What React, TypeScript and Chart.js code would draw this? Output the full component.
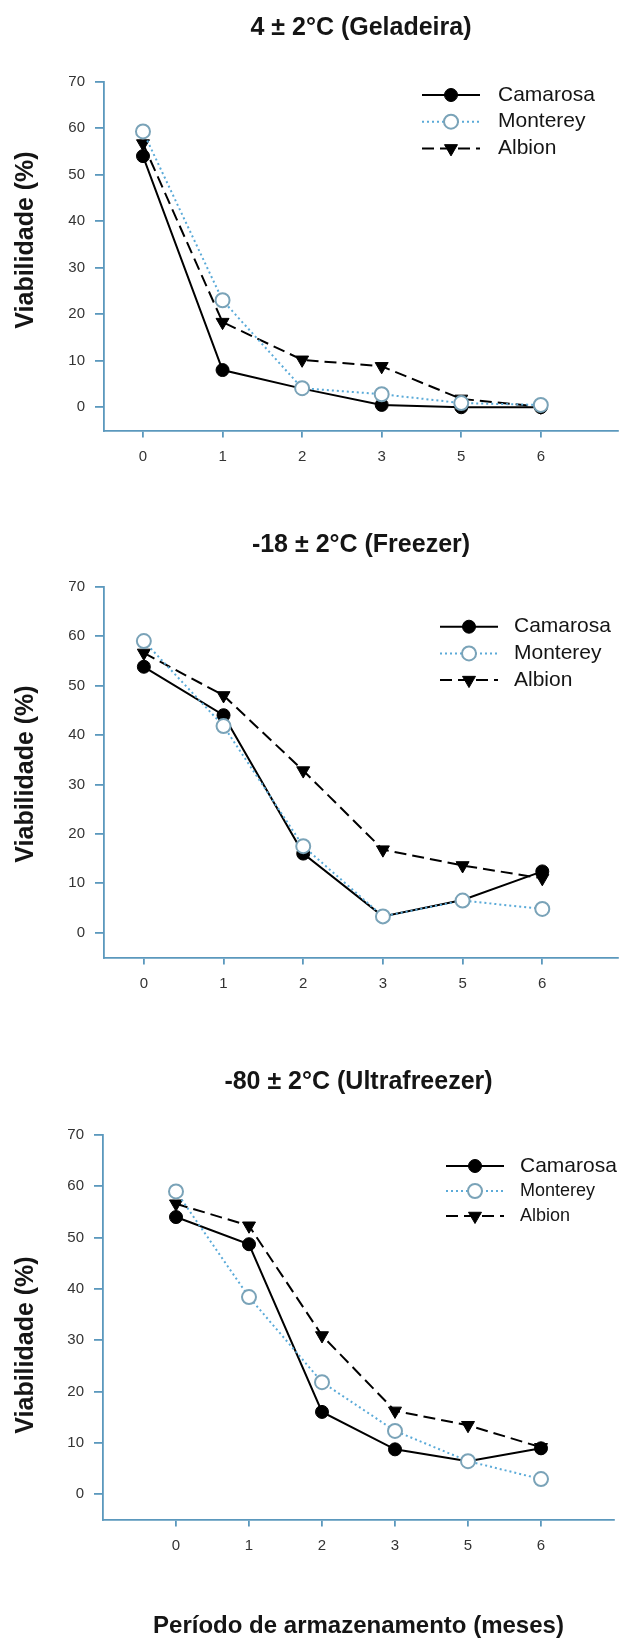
import React, { useEffect, useRef } from 'react';
import { Chart, registerables } from 'chart.js';

Chart.register(...registerables);

// ---------- data ----------
const months = ['0', '1', '2', '3', '5', '6'];
const yTicks = [0, 10, 20, 30, 40, 50, 60, 70];
const seriesNames = ['Camarosa', 'Monterey', 'Albion'];
const panelTitles = ['4 ± 2°C (Geladeira)', '-18 ± 2°C (Freezer)', '-80 ± 2°C (Ultrafreezer)'];
const yAxisTitle = 'Viabilidade (%)';
const xAxisTitle = 'Período de armazenamento (meses)';

const geladeiraCamarosa = [54.0, 8.0, 4.0, 0.5, 0.0, 0.0];
const geladeiraMonterey = [59.3, 23.0, 4.1, 2.8, 0.9, 0.5];
const geladeiraAlbion = [56.7, 18.3, 10.2, 8.8, 1.8, 0.1];

const freezerCamarosa = [53.8, 44.0, 16.0, 3.3, 6.6, 12.4];
const freezerMonterey = [59.0, 41.8, 17.5, 3.3, 6.5, 4.8];
const freezerAlbion = [56.6, 48.0, 32.8, 16.8, 13.6, 11.0];

const ultraCamarosa = [54.0, 48.7, 16.0, 8.7, 6.4, 8.9];
const ultraMonterey = [59.0, 38.4, 21.8, 12.3, 6.4, 2.9];
const ultraAlbion = [56.6, 52.3, 30.9, 16.2, 13.4, 9.1];

// ---------- styles ----------
const FONT = "'Liberation Sans', Arial, Helvetica, sans-serif";
const AXIS_COLOR = '#5b98bd';
const TEXT_DARK = '#151515';
const TICK_COLOR = '#333333';
const MONTEREY_LINE = '#5aaad8';
const MONTEREY_EDGE = '#7aa3b8';
const W = 627;

type LegendCfg = { lineX: number; len: number; textX: number; y: number; gap: number; sizes: number[] };
type PanelLayout = {
  top: number;
  height: number;
  areaTop: number;
  areaBottom: number;
  areaLeft: number;
  areaRight: number;
  xMin: number;
  xMax: number;
  titleY: number;
  yTitleX: number;
  yTitleY: number;
  legend: LegendCfg;
  showXTitle: boolean;
};

const layouts: PanelLayout[] = [
  {
    top: 0, height: 500, areaTop: 81.7, areaBottom: 430.5, areaLeft: 104, areaRight: 627,
    xMin: -0.49, xMax: 5.97, titleY: 28.3, yTitleX: 26, yTitleY: 240,
    legend: { lineX: 422, len: 58, textX: 498, y: 95, gap: 26.7, sizes: [21, 21, 21] },
    showXTitle: false,
  },
  {
    top: 500, height: 500, areaTop: 86.7, areaBottom: 457.4, areaLeft: 104, areaRight: 627,
    xMin: -0.5, xMax: 5.95, titleY: 45.5, yTitleX: 26, yTitleY: 274,
    legend: { lineX: 440, len: 58, textX: 514, y: 126.7, gap: 26.7, sizes: [21, 21, 21] },
    showXTitle: false,
  },
  {
    top: 1000, height: 638, areaTop: 135, areaBottom: 519.6, areaLeft: 103, areaRight: 614,
    xMin: -1, xMax: 6, titleY: 82, yTitleX: 26, yTitleY: 345,
    legend: { lineX: 446, len: 58, textX: 520, y: 166, gap: 25, sizes: [21, 18, 18] },
    showXTitle: true,
  },
];

const panelData: number[][][] = [
  [geladeiraCamarosa, geladeiraMonterey, geladeiraAlbion],
  [freezerCamarosa, freezerMonterey, freezerAlbion],
  [ultraCamarosa, ultraMonterey, ultraAlbion],
];

function drawMarker(ctx: CanvasRenderingContext2D, ds: any, x: number, y: number) {
  const r = ds.pointRadius;
  ctx.save();
  ctx.setLineDash([]);
  ctx.fillStyle = ds.pointBackgroundColor;
  ctx.strokeStyle = ds.pointBorderColor;
  ctx.lineWidth = ds.pointBorderWidth;
  ctx.beginPath();
  if (ds.pointStyle === 'triangle') {
    let rad = ((ds.pointRotation || 0) * Math.PI) / 180;
    ctx.moveTo(x + Math.sin(rad) * r, y - Math.cos(rad) * r);
    rad += (2 * Math.PI) / 3;
    ctx.lineTo(x + Math.sin(rad) * r, y - Math.cos(rad) * r);
    rad += (2 * Math.PI) / 3;
    ctx.lineTo(x + Math.sin(rad) * r, y - Math.cos(rad) * r);
    ctx.closePath();
  } else {
    ctx.arc(x, y, r, 0, Math.PI * 2);
  }
  ctx.fill();
  if (ds.pointBorderWidth > 0) ctx.stroke();
  ctx.restore();
}

const lineLegendPlugin = {
  id: 'lineLegend',
  afterDraw(chart: any, _args: any, opts: any) {
    const cfg = opts as LegendCfg;
    if (!cfg || cfg.lineX === undefined) return;
    const ctx: CanvasRenderingContext2D = chart.ctx;
    chart.data.datasets.forEach((ds: any, i: number) => {
      const y = cfg.y + i * cfg.gap;
      ctx.save();
      ctx.strokeStyle = ds.borderColor;
      ctx.lineWidth = ds.borderWidth;
      ctx.setLineDash(ds.borderDash || []);
      ctx.beginPath();
      ctx.moveTo(cfg.lineX, y);
      ctx.lineTo(cfg.lineX + cfg.len, y);
      ctx.stroke();
      ctx.restore();
      drawMarker(ctx, ds, cfg.lineX + cfg.len / 2, y);
      ctx.save();
      ctx.fillStyle = TEXT_DARK;
      ctx.font = `${cfg.sizes[i]}px ${FONT}`;
      ctx.textBaseline = 'middle';
      ctx.textAlign = 'left';
      ctx.fillText(ds.label, cfg.textX, y);
      ctx.restore();
    });
  },
};

const yTitlePlugin = {
  id: 'yTitle',
  afterDraw(chart: any, _args: any, opts: any) {
    if (!opts || opts.text === undefined) return;
    const ctx: CanvasRenderingContext2D = chart.ctx;
    ctx.save();
    ctx.translate(opts.x, opts.y);
    ctx.rotate(-Math.PI / 2);
    ctx.fillStyle = TEXT_DARK;
    ctx.font = `bold ${opts.size}px ${FONT}`;
    ctx.textAlign = 'center';
    ctx.textBaseline = 'middle';
    ctx.fillText(opts.text, 0, 0);
    ctx.restore();
  },
};

function makeConfig(idx: number): any {
  const L = layouts[idx];
  const d = panelData[idx];
  const titleSize = 25;
  const titleLH = titleSize * 1.2;
  const padTop = L.titleY - titleLH / 2;
  const padBottom = L.areaTop - padTop - titleLH;
  const toPts = (arr: number[]) => arr.map((v, i) => ({ x: i, y: v }));
  const tickFont = { family: FONT, size: 15 };
  return {
    type: 'line',
    data: {
      datasets: [
        {
          label: seriesNames[0],
          data: toPts(d[0]),
          borderColor: '#000',
          backgroundColor: '#000',
          borderWidth: 2,
          pointStyle: 'circle',
          pointRadius: 6.5,
          pointBackgroundColor: '#000',
          pointBorderColor: '#000',
          pointBorderWidth: 1,
          tension: 0,
          order: 2,
        },
        {
          label: seriesNames[1],
          data: toPts(d[1]),
          borderColor: MONTEREY_LINE,
          backgroundColor: '#fff',
          borderWidth: 2,
          borderDash: [2, 3],
          pointStyle: 'circle',
          pointRadius: 7,
          pointBackgroundColor: '#fff',
          pointBorderColor: MONTEREY_EDGE,
          pointBorderWidth: 2,
          tension: 0,
          order: 1,
        },
        {
          label: seriesNames[2],
          data: toPts(d[2]),
          borderColor: '#000',
          backgroundColor: '#000',
          borderWidth: 2,
          borderDash: [12, 6],
          pointStyle: 'triangle',
          pointRotation: 180,
          pointRadius: 7.5,
          pointBackgroundColor: '#000',
          pointBorderColor: '#000',
          pointBorderWidth: 1,
          tension: 0,
          order: 3,
        },
      ],
    },
    options: {
      responsive: false,
      animation: false,
      events: [],
      layout: { padding: { left: 0, right: W - L.areaRight, top: 0, bottom: 0 } },
      plugins: {
        legend: { display: false },
        tooltip: { enabled: false },
        title: {
          display: true,
          text: panelTitles[idx],
          fullSize: false,
          color: TEXT_DARK,
          font: { family: FONT, size: titleSize, weight: 'bold', lineHeight: 1.2 },
          padding: { top: padTop, bottom: padBottom },
        },
        lineLegend: L.legend,
        yTitle: { text: yAxisTitle, x: L.yTitleX, y: L.yTitleY, size: 25 },
      },
      scales: {
        x: {
          type: 'linear',
          min: L.xMin,
          max: L.xMax,
          afterFit: (s: any) => {
            s.height = L.height - L.areaBottom;
          },
          afterBuildTicks: (s: any) => {
            s.ticks = months.map((_, i) => ({ value: i }));
          },
          ticks: {
            callback: (v: any) => months[v] ?? '',
            font: tickFont,
            color: TICK_COLOR,
            padding: 10,
            maxRotation: 0,
            autoSkip: false,
          },
          grid: {
            display: true,
            drawOnChartArea: false,
            drawTicks: true,
            tickLength: 7,
            color: AXIS_COLOR,
            lineWidth: 1.8,
          },
          border: { display: true, color: AXIS_COLOR, width: 1.8 },
          title: L.showXTitle
            ? {
                display: true,
                text: xAxisTitle,
                color: TEXT_DARK,
                font: { family: FONT, size: 24, weight: 'bold', lineHeight: 1 },
                padding: { top: 0, bottom: 0 },
              }
            : { display: false },
        },
        y: {
          type: 'linear',
          min: -5,
          max: 70,
          afterFit: (s: any) => {
            s.width = L.areaLeft;
          },
          afterBuildTicks: (s: any) => {
            s.ticks = yTicks.map((v) => ({ value: v }));
          },
          ticks: {
            font: tickFont,
            color: TICK_COLOR,
            padding: 10,
          },
          grid: {
            display: true,
            drawOnChartArea: false,
            drawTicks: true,
            tickLength: 9,
            color: AXIS_COLOR,
            lineWidth: 1.8,
          },
          border: { display: true, color: AXIS_COLOR, width: 1.8 },
          title: { display: false },
        },
      },
    },
    plugins: [lineLegendPlugin, yTitlePlugin],
  };
}

function Panel({ idx }: { idx: number }) {
  const ref = useRef<HTMLCanvasElement | null>(null);
  const L = layouts[idx];
  useEffect(() => {
    if (!ref.current) return;
    const chart = new Chart(ref.current, makeConfig(idx));
    return () => chart.destroy();
  }, [idx]);
  return (
    <canvas
      ref={ref}
      width={W}
      height={L.height}
      style={{ position: 'absolute', left: 0, top: L.top, width: W, height: L.height, display: 'block' }}
    />
  );
}

export default function App() {
  return (
    <div style={{ position: 'absolute', left: 0, top: 0, width: W, height: 1638, background: '#fff', overflow: 'hidden' }}>
      {layouts.map((_, i) => (
        <Panel key={i} idx={i} />
      ))}
    </div>
  );
}
